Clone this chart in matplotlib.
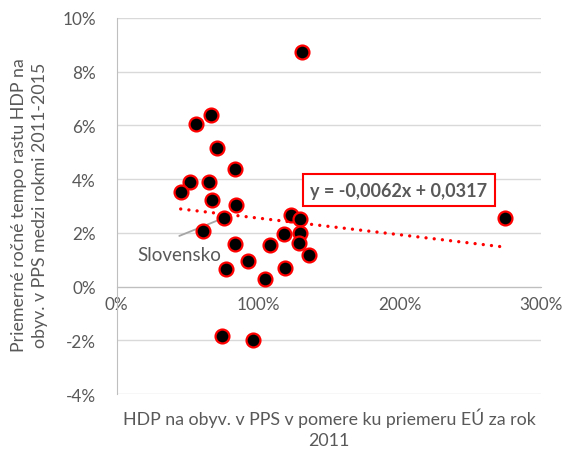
import numpy as np
import matplotlib.pyplot as plt
from matplotlib.ticker import FuncFormatter

# HDP na obyv. v PPS (podiel priemeru EU, 1 = 100 %) a rast 2011-2015 (%)
hdp_2011 = [0.666, 0.560, 0.706, 0.837, 0.518, 0.654, 0.452, 0.671, 0.840,
            0.758, 0.612, 0.837, 1.085, 1.183, 0.774, 0.925, 1.045, 1.186,
            1.233, 1.292, 1.297, 1.287, 1.356, 2.742, 0.746, 0.965, 1.311]
rast = [6.40, 6.05, 5.15, 4.37, 3.88, 3.90, 3.54, 3.22, 3.03,
        2.56, 2.07, 1.58, 1.56, 1.95, 0.67, 0.94, 0.27, 0.71,
        2.67, 2.50, 2.01, 1.61, 1.18, 2.57, -1.84, -2.00, 8.74]
slovensko = 9  # index of Slovakia

slope, intercept = -0.0062, 0.0317
eq_text = "y = -0,0062x + 0,0317"

y_ticks = [-4, -2, 0, 2, 4, 6, 8, 10]
x_ticks = [0, 1, 2, 3]

gray = "#595959"
plt.rcParams['font.family'] = ['Lato', 'DejaVu Sans']

fig = plt.figure(figsize=(5.77, 4.52), dpi=100)
ax = fig.add_axes([0.2023, 0.126, 0.736, 0.832])

x = np.array(hdp_2011)
y = np.array(rast) / 100

ax.scatter(x, y, s=100, facecolor='black', edgecolor='#FF0000', linewidth=1.6, zorder=3)

# linear trend line
xt = np.array([x.min(), x.max()])
ax.plot(xt, slope * xt + intercept, color='#FF0000', lw=2.4,
        linestyle=(0, (0.01, 2.46)), dash_capstyle='round', zorder=2)

ax.text(1.994, 0.0359, eq_text, ha='center', va='center', fontsize=13,
        fontweight='bold', color=gray, zorder=4,
        bbox=dict(boxstyle='square,pad=0.42', fc='white', ec='#FF0000', lw=1.5))

# Slovensko label
ax.annotate('', xy=(x[slovensko], y[slovensko]), xytext=(0.442, 0.01886),
            arrowprops=dict(arrowstyle='-', color='#A6A6A6', lw=1.3,
                            shrinkA=0, shrinkB=0), zorder=2)
ax.text(0.439, 0.0119, "Slovensko", ha='center', va='center', fontsize=13.5, color=gray)

ax.set_xlim(0, 3)
ax.set_ylim(-0.04, 0.10)
ax.set_xticks(x_ticks)
ax.set_yticks(np.array(y_ticks) / 100)
ax.xaxis.set_major_formatter(FuncFormatter(lambda v, p: f"{v*100:.0f}%"))
ax.yaxis.set_major_formatter(FuncFormatter(lambda v, p: f"{v*100:.0f}%".replace('\u2212', '-')))
ax.tick_params(length=0, labelsize=12.3, labelcolor=gray)
ax.tick_params(axis='x', pad=7)
ax.tick_params(axis='y', pad=15)

ax.grid(axis='y', color='#D9D9D9', lw=1)
ax.set_axisbelow(True)
for s in ['top', 'right']:
    ax.spines[s].set_visible(False)
ax.spines['bottom'].set_position(('data', 0))
ax.spines['bottom'].set_color('#BFBFBF')
ax.spines['left'].set_color('#BFBFBF')

ax.set_xlabel("HDP na obyv. v PPS v pomere ku priemeru EÚ za rok\n2011",
              fontsize=12.8, color=gray, linespacing=1.4)
ax.xaxis.set_label_coords(0.5, -0.035)
ax.xaxis.label.set_va('top')
ax.set_ylabel("Priemerné ročné tempo rastu HDP na\nobyv. v PPS medzi rokmi 2011-2015",
              fontsize=12.8, color=gray, linespacing=1.4)
ax.yaxis.set_label_coords(-0.162, 0.505)

fig.savefig("out.png", dpi=100)
